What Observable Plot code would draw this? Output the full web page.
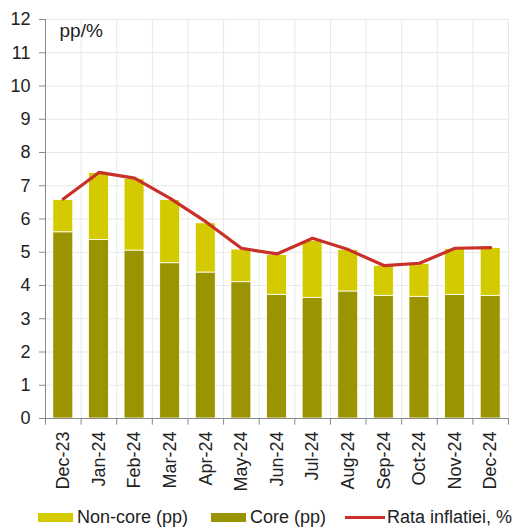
<!DOCTYPE html>
<html><head>
<meta charset="utf-8">
<script src="https://cdn.jsdelivr.net/npm/d3@7"></script>
<script src="https://cdn.jsdelivr.net/npm/@observablehq/plot@0.6"></script>
<style>
body{margin:0;background:#fff;font-family:"Liberation Sans",Arial,sans-serif;}
#legend{position:relative;height:29px;font-size:18px;color:#222;}
#legend .item{position:absolute;top:7px;display:flex;align-items:center;white-space:nowrap;}
#legend .sw{display:inline-block;width:35px;height:9px;margin-right:4px;}
#legend .ln{display:inline-block;width:40px;height:3px;margin-right:2px;}
</style>
</head><body>
<div id="chart"></div>
<div id="legend"></div>
<script>
const months = ["Dec-23","Jan-24","Feb-24","Mar-24","Apr-24","May-24","Jun-24","Jul-24","Aug-24","Sep-24","Oct-24","Nov-24","Dec-24"];
const core =    [5.60, 5.37, 5.05, 4.67, 4.39, 4.10, 3.72, 3.63, 3.82, 3.69, 3.66, 3.72, 3.69];
const nonCore = [0.97, 2.01, 2.15, 1.90, 1.48, 0.98, 1.20, 1.71, 1.25, 0.90, 0.99, 1.38, 1.44];
const inflation=[6.60, 7.40, 7.23, 6.62, 5.92, 5.12, 4.95, 5.42, 5.08, 4.60, 4.67, 5.12, 5.14];
const yTicks = [0,1,2,3,4,5,6,7,8,9,10,11,12];
const seriesNames = ["Non-core (pp)", "Core (pp)", "Rata inflatiei, %"];
const colors = {nonCore: "#d3cb00", core: "#999400", line: "#c9302a"};

const idx = months.map((m, i) => i);
const half = 0.28;
const segs = [];
idx.forEach(i => {
  segs.push({i, y1: 0, y2: core[i], s: "core"});
  segs.push({i, y1: core[i], y2: core[i] + nonCore[i], s: "nonCore"});
});
const bounds = d3.range(-0.5, months.length, 1);
const lineData = idx.map(i => ({i, v: inflation[i]}));

const chart = Plot.plot({
  width: 513,
  height: 500,
  marginLeft: 45,
  marginRight: 5,
  marginTop: 19,
  marginBottom: 82,
  style: {fontFamily: "'Liberation Sans', Arial, sans-serif", color: "#222", background: "#fff"},
  x: {domain: [-0.5, months.length - 0.5], axis: null},
  y: {domain: [0, 12], axis: null},
  marks: [
    Plot.ruleY(yTicks.slice(1), {stroke: "#e8e8e8", strokeWidth: 1}),
    Plot.ruleX(bounds.slice(1), {y1: 0, y2: 12, stroke: "#e8e8e8", strokeWidth: 1}),
    Plot.rect(segs, {
      x1: d => d.i - half, x2: d => d.i + half, y1: "y1", y2: "y2",
      fill: d => colors[d.s], stroke: "#fff", strokeWidth: 0.8
    }),
    Plot.line(lineData, {x: "i", y: "v", stroke: colors.line, strokeWidth: 3.2, curve: "linear"}),
    Plot.ruleX([-0.5], {y1: 0, y2: 12, stroke: "#8a8a8a"}),
    Plot.ruleY([0], {stroke: "#8a8a8a"}),
    Plot.ruleX(bounds, {y1: 0, y2: -0.2, stroke: "#8a8a8a"}),
    Plot.axisY({ticks: yTicks, tickSize: 6, tickPadding: 9, fontSize: 18, stroke: "#8a8a8a", color: "#222"}),
    Plot.text(idx, {
      x: d => d, y: 0, text: d => months[d], rotate: -90, textAnchor: "end",
      dy: 13, fontSize: 18, fill: "#222"
    }),
    Plot.text(["pp/%"], {frameAnchor: "top-left", dx: 14, dy: 4, fontSize: 19, fill: "#222", textAnchor: "start"})
  ]
});
document.getElementById("chart").appendChild(chart);

const legend = document.getElementById("legend");
const items = [
  {name: seriesNames[0], cls: "sw", color: colors.nonCore, left: 38},
  {name: seriesNames[1], cls: "sw", color: colors.core, left: 211},
  {name: seriesNames[2], cls: "ln", color: colors.line, left: 345}
];
items.forEach(it => {
  const d = document.createElement("div");
  d.className = "item";
  d.style.left = it.left + "px";
  const s = document.createElement("span");
  s.className = it.cls;
  s.style.background = it.color;
  d.appendChild(s);
  d.appendChild(document.createTextNode(it.name));
  legend.appendChild(d);
});
</script>
</body></html>
